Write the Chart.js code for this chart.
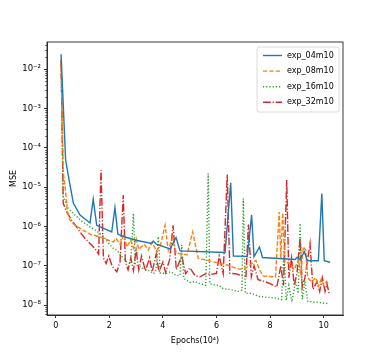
<!DOCTYPE html>
<html><head><meta charset="utf-8">
<script src="https://cdn.jsdelivr.net/npm/chart.js@4"></script>
<style>html,body{margin:0;padding:0;background:#fff}</style>
</head><body>
<canvas id="c" width="381" height="354"></canvas>
<script>
// ---- data (x in 10^4 epochs, MSE given as log10 exponent) ----
const seriesNames = ['exp_04m10', 'exp_08m10', 'exp_16m10', 'exp_32m10'];

const epochs04 = [0.2, 0.37, 0.5, 0.66, 0.91, 1.28, 1.40, 1.53, 2.09, 2.21, 2.32, 2.65, 3.0, 3.58, 3.64, 3.75, 4.27, 4.49, 4.64, 6.32, 6.53, 6.63, 7.15, 7.31, 7.40, 7.60, 7.72, 8.93, 9.01, 9.11, 9.28, 9.39, 9.80, 9.93, 10.02, 10.13, 10.24];
const mse04_log10 = [-1.62, -4.31, -4.82, -5.41, -5.71, -5.91, -5.31, -5.97, -6.14, -5.52, -6.2, -6.28, -6.35, -6.43, -6.37, -6.45, -6.57, -6.28, -6.62, -6.66, -4.89, -6.75, -6.76, -5.71, -6.77, -6.52, -6.79, -6.84, -6.78, -6.84, -6.64, -6.87, -6.87, -5.16, -6.87, -6.89, -6.91];

const epochs08 = [0.2, 0.28, 0.35, 0.43, 0.53, 0.72, 1.03, 1.3, 1.65, 1.96, 2.15, 2.25, 2.4, 2.55, 2.65, 2.8, 2.9, 3.0, 3.1, 3.3, 3.45, 3.6, 3.75, 3.9, 4.08, 4.2, 4.35, 4.5, 4.7, 4.9, 5.11, 5.32, 5.6, 5.9, 6.13, 6.4, 6.69, 6.88, 7.1, 7.3, 7.47, 7.6, 7.75, 8.2, 8.34, 8.4, 8.47, 8.55, 8.74, 8.9, 9.05, 9.15, 9.24, 9.33, 9.4, 9.55, 9.7, 9.8, 9.9, 10.0, 10.1, 10.2];
const mse08_log10 = [-1.78, -4.6, -5.0, -5.58, -5.84, -5.97, -6.1, -6.2, -6.26, -6.35, -6.39, -6.3, -6.45, -6.2, -6.52, -6.35, -6.55, -6.3, -6.58, -6.45, -6.6, -6.4, -6.62, -6.5, -5.97, -6.6, -6.3, -6.68, -6.7, -6.72, -6.14, -6.81, -6.85, -6.9, -6.94, -6.98, -7.05, -7.09, -7.05, -6.95, -6.86, -7.1, -7.26, -7.28, -5.63, -6.8, -5.65, -6.9, -6.94, -7.1, -6.85, -7.2, -6.52, -6.6, -7.3, -7.41, -7.3, -7.53, -7.35, -7.5, -7.4, -7.49];

const epochs16 = [0.2, 0.28, 0.47, 0.72, 1.0, 1.28, 1.5, 1.78, 2.0, 2.15, 2.28, 2.45, 2.65, 2.8, 2.9, 2.97, 3.1, 3.3, 3.52, 3.65, 3.75, 3.83, 3.9, 4.1, 4.3, 4.5, 4.64, 4.7, 4.78, 5.0, 5.2, 5.38, 5.6, 5.69, 5.75, 5.9, 6.1, 6.25, 6.5, 6.8, 6.95, 7.0, 7.08, 7.3, 7.6, 7.9, 8.2, 8.43, 8.52, 8.6, 8.7, 8.81, 8.95, 9.05, 9.12, 9.2, 9.3, 9.4, 9.6, 9.8, 10.0, 10.2];
const mse16_log10 = [-1.8, -5.25, -5.54, -5.71, -5.88, -6.01, -6.1, -6.25, -6.45, -6.56, -6.6, -6.75, -6.9, -6.95, -5.67, -6.98, -7.0, -7.08, -7.13, -7.2, -7.1, -6.26, -7.18, -7.2, -7.15, -7.25, -7.24, -6.47, -7.32, -7.42, -7.4, -7.45, -7.5, -4.65, -7.45, -7.48, -7.5, -7.58, -7.6, -7.65, -7.62, -5.29, -7.7, -7.7, -7.78, -7.8, -7.82, -7.86, -6.6, -7.88, -7.5, -7.92, -7.4, -7.7, -5.92, -7.85, -7.4, -7.9, -7.92, -7.93, -7.95, -7.96];

const epochs32 = [0.2, 0.28, 0.41, 0.6, 0.78, 0.95, 1.09, 1.28, 1.45, 1.6, 1.69, 1.78, 1.88, 1.98, 2.1, 2.28, 2.4, 2.52, 2.6, 2.7, 2.8, 2.9, 3.0, 3.1, 3.2, 3.35, 3.5, 3.6, 3.75, 3.85, 4.0, 4.1, 4.25, 4.38, 4.5, 4.7, 4.85, 5.01, 5.2, 5.38, 5.6, 5.8, 6.0, 6.1, 6.25, 6.4, 6.5, 6.7, 6.95, 7.1, 7.19, 7.3, 7.4, 7.55, 7.8, 8.0, 8.25, 8.4, 8.5, 8.62, 8.7, 8.8, 8.9, 9.0, 9.12, 9.2, 9.3, 9.49, 9.6, 9.75, 9.85, 9.95, 10.05, 10.12, 10.2];
const mse32_log10 = [-1.76, -5.41, -5.63, -5.85, -6.01, -6.18, -6.3, -6.43, -6.55, -6.7, -4.57, -6.8, -6.94, -6.75, -7.0, -7.15, -6.9, -5.2, -6.9, -7.1, -6.8, -7.12, -6.6, -7.1, -6.75, -7.13, -6.8, -7.15, -6.7, -7.15, -6.9, -7.17, -6.85, -5.97, -7.1, -6.75, -7.2, -7.05, -7.25, -7.28, -7.2, -7.22, -7.19, -6.75, -7.2, -4.68, -7.19, -7.2, -7.25, -7.27, -5.95, -7.28, -7.0, -7.35, -7.4, -7.45, -7.54, -7.0, -7.5, -4.82, -7.3, -6.8, -7.5, -7.2, -6.3, -7.55, -7.3, -6.43, -7.6, -7.4, -7.65, -7.3, -7.65, -7.45, -7.7];

const xTickValues = [0, 2, 4, 6, 8, 10];
const xTickLabels = ['0', '2', '4', '6', '8', '10'];
const yTickValues = [1e-8, 1e-7, 1e-6, 1e-5, 1e-4, 1e-3, 1e-2];
const yTickLabels = ['10⁻⁸', '10⁻⁷', '10⁻⁶', '10⁻⁵', '10⁻⁴', '10⁻³', '10⁻²'];
const xAxisTitle = 'Epochs(10⁴)';
const yAxisTitle = 'MSE';

// ---- styling ----
const FONT = 'DejaVu Sans';
const colors = ['#1f77b4', '#ff7f0e', '#2ca02c', '#d62728'];
const dashes = [[], [4.4, 1.9], [1.2, 2.0], [7.7, 1.9, 1.2, 1.9]];
const epochSets = [epochs04, epochs08, epochs16, epochs32];
const logSets = [mse04_log10, mse08_log10, mse16_log10, mse32_log10];

const datasets = seriesNames.map((name, k) => ({
  label: name,
  data: epochSets[k].map((x, i) => ({ x: x, y: Math.pow(10, logSets[k][i]) })),
  borderColor: colors[k],
  backgroundColor: colors[k],
  borderWidth: 1.4,
  borderDash: dashes[k],
  pointRadius: 0,
  tension: 0,
  fill: false
}));

const framePlugin = {
  id: 'frame',
  afterDraw(chart) {
    const { ctx, chartArea: a } = chart;
    const ys = chart.scales.y;
    ctx.save();
    // minor log ticks
    ctx.strokeStyle = '#000';
    ctx.lineWidth = 0.6;
    for (let e = -9; e <= -1; e++) {
      for (let m = 2; m <= 9; m++) {
        const v = m * Math.pow(10, e);
        if (v < ys.min || v > ys.max) continue;
        const py = Math.round(ys.getPixelForValue(v)) + 0.5;
        ctx.beginPath();
        ctx.moveTo(a.left - 1.8, py);
        ctx.lineTo(a.left, py);
        ctx.stroke();
      }
    }
    // frame
    ctx.lineWidth = 0.9;
    ctx.strokeStyle = '#222';
    ctx.strokeRect(a.left, a.top, a.right - a.left, a.bottom - a.top);
    // legend
    const bx = 257, by = 47, bw = 82, bh = 65, r = 2;
    ctx.fillStyle = 'rgba(255,255,255,0.8)';
    ctx.strokeStyle = '#d0d0d0';
    ctx.lineWidth = 0.8;
    ctx.beginPath();
    ctx.moveTo(bx + r, by);
    ctx.lineTo(bx + bw - r, by);
    ctx.quadraticCurveTo(bx + bw, by, bx + bw, by + r);
    ctx.lineTo(bx + bw, by + bh - r);
    ctx.quadraticCurveTo(bx + bw, by + bh, bx + bw - r, by + bh);
    ctx.lineTo(bx + r, by + bh);
    ctx.quadraticCurveTo(bx, by + bh, bx, by + bh - r);
    ctx.lineTo(bx, by + r);
    ctx.quadraticCurveTo(bx, by, bx + r, by);
    ctx.closePath();
    ctx.fill();
    ctx.stroke();
    chart.data.datasets.forEach((ds, i) => {
      const ly = 55.5 + i * 15.6;
      ctx.strokeStyle = ds.borderColor;
      ctx.lineWidth = ds.borderWidth;
      ctx.setLineDash(ds.borderDash);
      ctx.beginPath();
      ctx.moveTo(263, ly);
      ctx.lineTo(282, ly);
      ctx.stroke();
      ctx.setLineDash([]);
      ctx.fillStyle = '#000';
      ctx.font = '8px "' + FONT + '"';
      ctx.textBaseline = 'middle';
      ctx.textAlign = 'left';
      ctx.fillText(ds.label, 287, ly);
    });
    ctx.restore();
  }
};

new Chart(document.getElementById('c'), {
  type: 'line',
  data: { datasets: datasets },
  options: {
    responsive: false,
    animation: false,
    devicePixelRatio: 1,
    layout: { padding: { left: 0, right: 38, top: 42, bottom: 0 } },
    plugins: { legend: { display: false }, tooltip: { enabled: false } },
    scales: {
      x: {
        type: 'linear',
        min: -0.325,
        max: 10.72,
        afterBuildTicks: s => { s.ticks = xTickValues.map(v => ({ value: v })); },
        afterFit: s => { s.height = 39; },
        ticks: {
          callback: (v, i) => xTickLabels[i],
          font: { family: FONT, size: 8 },
          color: '#000',
          padding: 3,
          maxRotation: 0,
          autoSkip: false
        },
        grid: { display: true, drawOnChartArea: false, drawTicks: true, tickLength: 3, color: '#000', tickWidth: 0.8 },
        border: { display: true, color: '#222', width: 0.9 },
        title: { display: true, text: xAxisTitle, font: { family: FONT, size: 8 }, color: '#000', padding: { top: 0, bottom: 8 } }
      },
      y: {
        type: 'logarithmic',
        min: Math.pow(10, -8.25),
        max: Math.pow(10, -1.31),
        afterBuildTicks: s => { s.ticks = yTickValues.map(v => ({ value: v, major: false })); },
        afterFit: s => { s.width = 47; },
        ticks: {
          callback: (v, i) => yTickLabels[i],
          font: { family: FONT, size: 8.5 },
          color: '#000',
          padding: 3,
          autoSkip: false
        },
        grid: { display: true, drawOnChartArea: false, drawTicks: true, tickLength: 3, color: '#000', tickWidth: 0.8 },
        border: { display: true, color: '#222', width: 0.9 },
        title: { display: true, text: yAxisTitle, font: { family: FONT, size: 8 }, color: '#000', padding: { top: 9, bottom: 0 } }
      }
    }
  },
  plugins: [framePlugin]
});
</script>
</body></html>
